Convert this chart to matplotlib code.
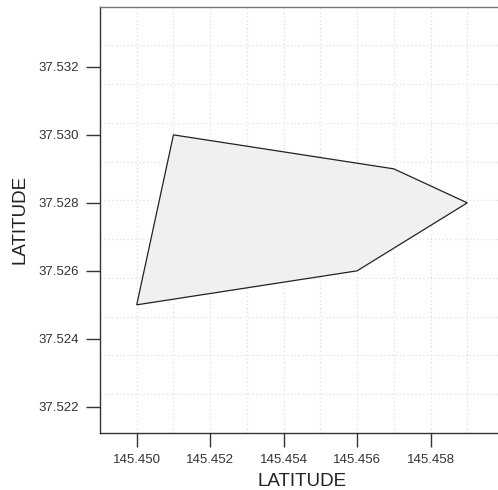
import numpy as np
import matplotlib
matplotlib.use('Agg')
import matplotlib.pyplot as plt
from matplotlib.patches import Polygon

plt.rcParams['font.family'] = ['Liberation Sans', 'DejaVu Sans']

# polygon vertices
lon = [145.450, 145.451, 145.457, 145.459, 145.456]
lat = [37.525, 37.530, 37.529, 37.528, 37.526]

xticks = [145.450, 145.452, 145.454, 145.456, 145.458]
yticks = [37.522, 37.524, 37.526, 37.528, 37.530, 37.532]

xlim = (145.449, 145.460)
ylim = (37.52123, 37.53377)
n_grid = 11

W, H = 498, 490
fig = plt.figure(figsize=(W / 100, H / 100), dpi=100)
ax = fig.add_axes([100 / W, (H - 433) / H, 404 / W, (433 - 6.7) / H])

ax.set_xlim(*xlim)
ax.set_ylim(*ylim)

# equal-division dotted grid
for gx in np.linspace(xlim[0], xlim[1], n_grid + 1)[1:-1]:
    ax.axvline(gx, color='#d9d9d9', lw=0.8, ls=(0, (1, 2.5)), zorder=0)
for gy in np.linspace(ylim[0], ylim[1], n_grid + 1)[1:-1]:
    ax.axhline(gy, color='#d9d9d9', lw=0.8, ls=(0, (1, 2.5)), zorder=0)

poly = Polygon(np.column_stack([lon, lat]), closed=True,
               facecolor='#f0f0f0', edgecolor='#222222', lw=0.9, zorder=2)
ax.add_patch(poly)

ax.set_xticks(xticks)
ax.set_yticks(yticks)
ax.set_xticklabels([f'{v:.3f}' for v in xticks])
ax.set_yticklabels([f'{v:.3f}' for v in yticks])
ax.tick_params(direction='out', length=10, width=1, color='#333333',
               labelsize=9.5, labelcolor='#333333', pad=5)

ax.spines['right'].set_visible(False)
ax.spines['left'].set_color('#333333')
ax.spines['bottom'].set_color('#333333')
ax.spines['top'].set_color('#777777')
for s in ax.spines.values():
    s.set_linewidth(1.0)

ax.set_xlabel('LATITUDE', fontsize=13.5, color='#222222', labelpad=5)
ax.set_ylabel('LATITUDE', fontsize=13.5, color='#222222', labelpad=7)

fig.savefig('out.png', dpi=100)
